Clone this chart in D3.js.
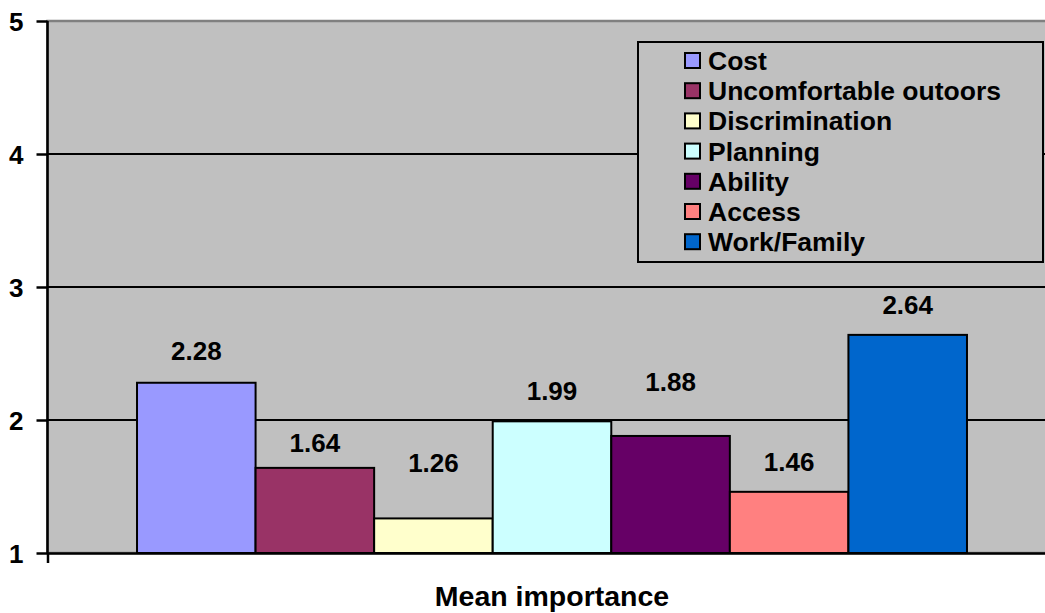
<!DOCTYPE html>
<html>
<head>
<meta charset="utf-8">
<script src="https://cdn.jsdelivr.net/npm/d3@7"></script>
<style>
  html, body { margin: 0; padding: 0; background: #ffffff; }
  svg { display: block; }
  text { font-family: Arial, "Liberation Sans", sans-serif; font-weight: bold; fill: #000; }
</style>
</head>
<body>
<svg id="chart" width="1045" height="613"></svg>
<script>
// Data
const category = ["Mean importance"];
const seriesNames = ["Cost", "Uncomfortable outoors", "Discrimination", "Planning", "Ability", "Access", "Work/Family"];
const seriesValues = [2.28, 1.64, 1.26, 1.99, 1.88, 1.46, 2.64];
const seriesColors = ["#9999FF", "#993366", "#FFFFCC", "#CCFFFF", "#660066", "#FF8080", "#0066CC"];
const yTicks = [1, 2, 3, 4, 5];

// Vertical gap (px) between a bar's top and its value label's centre
const labelLift = [32, 25, 56, 31, 54, 30, 30];

const svg = d3.select("#chart");

// Plot area (extends past the right edge of the canvas)
const plot = { left: 47.5, right: 1056.5, top: 21, bottom: 553 };
const FONT = 26;
const LEGEND_FONT = 26.5;

const y = d3.scaleLinear().domain([1, 5]).range([plot.bottom, plot.top]);

// Outer band: the single category; gap on both sides of the bar group
const gapRatio = 0.2157;
const x0 = d3.scaleBand()
  .domain(category)
  .range([plot.left, plot.right])
  .paddingInner(0)
  .paddingOuter(gapRatio / 2);

const x1 = d3.scaleBand()
  .domain(seriesNames)
  .range([0, x0.bandwidth()])
  .padding(0);

// Plot background
svg.append("rect")
  .attr("x", plot.left).attr("y", plot.top)
  .attr("width", plot.right - plot.left).attr("height", plot.bottom - plot.top)
  .attr("fill", "#C0C0C0")
  .attr("stroke", "#808080").attr("stroke-width", 2.5);

// Horizontal gridlines
svg.append("g")
  .selectAll("line")
  .data(yTicks.filter(t => t > 1 && t < 5))
  .join("line")
  .attr("x1", plot.left).attr("x2", plot.right)
  .attr("y1", d => y(d)).attr("y2", d => y(d))
  .attr("stroke", "#000").attr("stroke-width", 2);

// Bars
const barData = seriesNames.map((name, i) => ({ name, value: seriesValues[i], color: seriesColors[i], lift: labelLift[i] }));
const bars = svg.append("g");
bars.selectAll("rect")
  .data(barData)
  .join("rect")
  .attr("x", d => x0(category[0]) + x1(d.name))
  .attr("y", d => y(d.value))
  .attr("width", x1.bandwidth())
  .attr("height", d => y(1) - y(d.value))
  .attr("fill", d => d.color)
  .attr("stroke", "#000").attr("stroke-width", 2);

// Value labels
svg.append("g")
  .selectAll("text")
  .data(barData)
  .join("text")
  .attr("x", d => x0(category[0]) + x1(d.name) + x1.bandwidth() / 2)
  .attr("y", d => y(d.value) - d.lift + FONT * 0.36)
  .attr("text-anchor", "middle")
  .attr("font-size", FONT)
  .text(d => d3.format(".2f")(d.value));

// Y axis
const yAxis = d3.axisLeft(y)
  .tickValues(yTicks)
  .tickFormat(d3.format("d"))
  .tickSize(11)
  .tickPadding(13);
const gy = svg.append("g")
  .attr("transform", `translate(${plot.left},0)`)
  .call(yAxis);
gy.attr("font-family", null).attr("font-size", null);
gy.select(".domain").attr("stroke", "#000").attr("stroke-width", 2.5)
  .attr("d", `M0,${plot.top}V${plot.bottom}`);
gy.selectAll(".tick line").attr("stroke", "#000").attr("stroke-width", 2.5);
gy.selectAll(".tick text")
  .attr("font-size", FONT)
  .attr("fill", "#000")
  .attr("dy", "0.38em");

// X axis (category axis) with its boundary tick
const xAxis = d3.axisBottom(d3.scaleLinear().domain([0, 1]).range([plot.left, plot.right]))
  .tickValues([0, 1])
  .tickFormat("")
  .tickSize(10)
  .tickSizeOuter(0);
const gx = svg.append("g")
  .attr("transform", `translate(0,${plot.bottom})`)
  .call(xAxis);
gx.select(".domain").attr("stroke", "#000").attr("stroke-width", 2.5);
gx.selectAll(".tick line").attr("stroke", "#000").attr("stroke-width", 2.5);

// Category label
svg.append("text")
  .attr("x", x0(category[0]) + x0.bandwidth() / 2)
  .attr("y", 606)
  .attr("text-anchor", "middle")
  .attr("font-size", 28.5)
  .text(category[0]);

// Legend
const legend = svg.append("g").attr("transform", "translate(638,42)");
legend.append("rect")
  .attr("x", 0).attr("y", 0)
  .attr("width", 405).attr("height", 220)
  .attr("fill", "#C0C0C0")
  .attr("stroke", "#000").attr("stroke-width", 2);
const items = legend.selectAll("g.item")
  .data(barData)
  .join("g")
  .attr("class", "item")
  .attr("transform", (d, i) => `translate(0,${18.5 + i * 30.2})`);
items.append("rect")
  .attr("x", 47).attr("y", -7.5)
  .attr("width", 15).attr("height", 15)
  .attr("fill", d => d.color)
  .attr("stroke", "#000").attr("stroke-width", 2);
items.append("text")
  .attr("x", 70)
  .attr("y", LEGEND_FONT * 0.36)
  .attr("font-size", LEGEND_FONT)
  .text(d => d.name);
</script>
</body>
</html>
